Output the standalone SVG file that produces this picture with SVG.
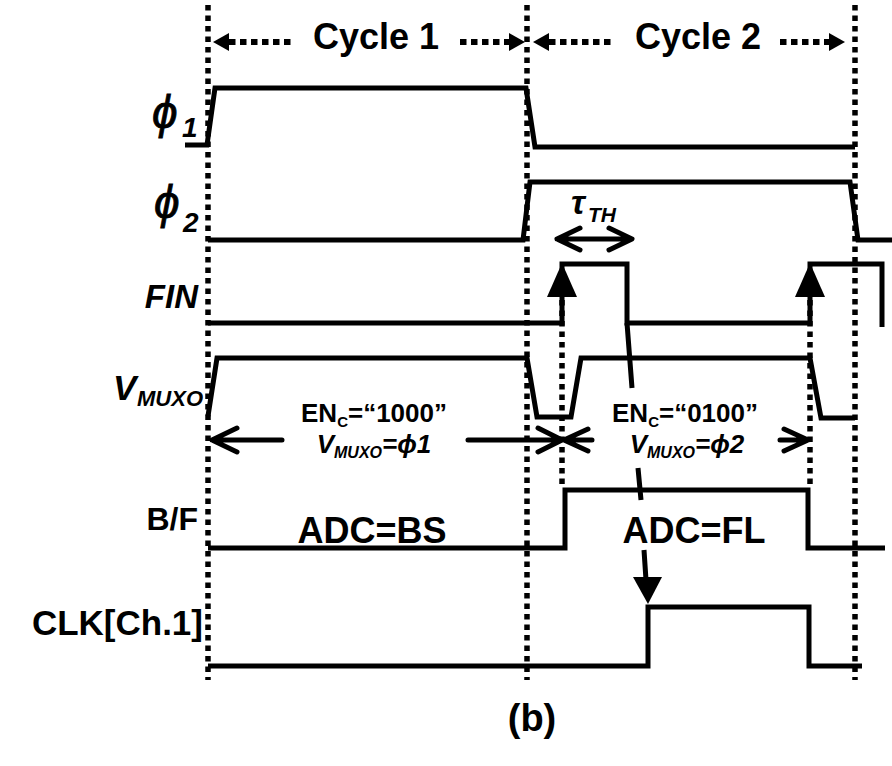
<svg xmlns="http://www.w3.org/2000/svg" width="892" height="766" viewBox="0 0 892 766">
<style>
.w{fill:none;stroke:#000;stroke-width:5;stroke-linejoin:miter}
.dv{fill:none;stroke:#000;stroke-width:5.5;stroke-dasharray:5.5 5}
.dh{fill:none;stroke:#000;stroke-width:6;stroke-dasharray:6.5 4.5}
.ar{fill:none;stroke:#000;stroke-width:5;stroke-linecap:round;stroke-linejoin:round}
.t{font-family:"Liberation Sans",Arial,sans-serif;font-weight:bold;fill:#000}
.i{font-style:italic}
.ph{font-weight:normal;font-style:italic;stroke:#000;stroke-width:0.8}
</style>
<rect width="892" height="766" fill="#fff"/>
<g id="gridlines">
<line class="dv" x1="208" y1="5" x2="208" y2="680"/>
<line class="dv" x1="527" y1="5" x2="527" y2="680"/>
<line class="dv" x1="855" y1="5" x2="855" y2="680"/>
<line class="dv" x1="562" y1="300" x2="562" y2="485"/>
<line class="dv" x1="810" y1="300" x2="810" y2="485"/>
</g>
<g id="cycle1">
<line class="dh" x1="229" y1="42" x2="294" y2="42"/>
<polygon points="213,42 229,33 229,51"/>
<line class="dh" x1="460" y1="42" x2="510" y2="42"/>
<polygon points="525,42 509,33 509,51"/>
<text class="t" x="376" y="49" font-size="36" text-anchor="middle">Cycle 1</text>
</g>
<g id="cycle2">
<line class="dh" x1="549" y1="42" x2="614" y2="42"/>
<polygon points="533,42 549,33 549,51"/>
<line class="dh" x1="780" y1="42" x2="830" y2="42"/>
<polygon points="845,42 829,33 829,51"/>
<text class="t" x="698" y="49" font-size="36" text-anchor="middle">Cycle 2</text>
</g>
<g id="phi1">
<text class="t ph" x="152" y="128" font-size="46">ϕ</text>
<text class="t i" x="182" y="137" font-size="28">1</text>
<path class="w" d="M185,145 L207,145 L215,88 L526,88 L535,147 L855,147"/>
</g>
<g id="phi2">
<text class="t ph" x="154" y="218" font-size="46">ϕ</text>
<text class="t i" x="183" y="232" font-size="28">2</text>
<path class="w" d="M208,240 L523,240 L530,182 L850,182 L858,240 L892,240"/>
</g>
<g id="fin">
<text class="t i" x="198" y="308" font-size="33" text-anchor="end">FIN</text>
<path class="w" d="M208,323 L562,323 L562,264 L627,264 L627,323 L810,323 L810,264 L882,264 L882,327"/>
<polygon points="562,263 547,297 577,297"/>
<polygon points="810,263 795,297 825,297"/>
</g>
<g id="tau">
<text class="t i" y="214"><tspan x="571" font-size="34">τ</tspan><tspan x="588" y="222" font-size="21">TH</tspan></text>
</g>
<g id="vmuxo">
<text class="t i" y="400"><tspan x="113" font-size="35">V</tspan><tspan x="137" y="406" font-size="22">MUXO</tspan></text>
<path class="w" d="M208,416 L217,358 L527,358 L537,417 L571,417 L581,358 L810,358 L821,418 L855,418"/>
</g>
<g id="enc1">
<text class="t" x="374" y="422" font-size="26" text-anchor="middle">EN<tspan font-size="15" dy="5">C</tspan><tspan dy="-5">=“1000”</tspan></text>
<text class="t i" x="374" y="453" font-size="26" text-anchor="middle">V<tspan font-size="16" dy="5">MUXO</tspan><tspan dy="-5">=ϕ1</tspan></text>
</g>
<g id="enc2">
<text class="t" x="685" y="422" font-size="26" text-anchor="middle">EN<tspan font-size="15" dy="5">C</tspan><tspan dy="-5">=“0100”</tspan></text>
<text class="t i" x="687" y="453" font-size="26" text-anchor="middle">V<tspan font-size="16" dy="5">MUXO</tspan><tspan dy="-5">=ϕ2</tspan></text>
</g>
<g id="bf">
<text class="t" x="198" y="530" font-size="32" text-anchor="end">B/F</text>
<path class="w" d="M208,548 L565,548 L565,490 L808,490 L808,548 L885,548"/>
<text class="t" x="372" y="543" font-size="36" text-anchor="middle">ADC=BS</text>
<text class="t" x="694" y="543" font-size="36" text-anchor="middle">ADC=FL</text>
</g>
<g id="clk">
<text class="t" x="203" y="635" font-size="35" text-anchor="end">CLK[Ch.1]</text>
<path class="w" d="M208,666 L648,666 L648,607 L809,607 L809,666 L862,666"/>
</g>
<g id="connectors">
<path class="ar" d="M557,239 L631,239 M580,228 L557,239 L580,250 M609,228 L632,239 L609,250"/>
<path class="ar" d="M212,440 L282,440 M237,428 L212,440 L237,452 M468,440 L562,440 M538,428 L562,440 L538,452"/>
<path class="ar" d="M564,440 L592,440 M588,429 L564,440 L588,451 M780,440 L808,440 M784,429 L808,440 L784,451"/>
<path class="w" d="M627,323 L632,388 M638,468 L641,500 M644,550 L646,580"/>
<polygon points="648,604 633,577 662,577"/>
</g>
<text class="t" x="532" y="731" font-size="38" text-anchor="middle">(b)</text>
</svg>
